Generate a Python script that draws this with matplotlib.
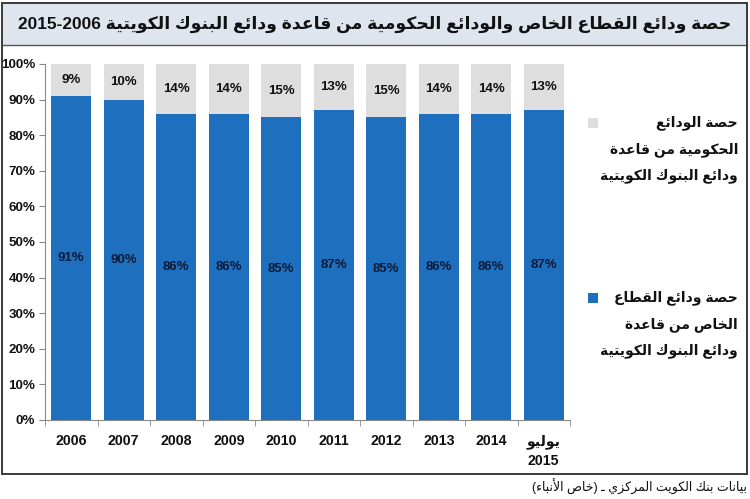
import numpy as np
import matplotlib
matplotlib.use('Agg')
import matplotlib.pyplot as plt
from matplotlib.patches import Rectangle
from matplotlib.lines import Line2D

# data
years = ['2006', '2007', '2008', '2009', '2010', '2011', '2012', '2013', '2014', 'يوليو\n2015']
private_share = [91, 90, 86, 86, 85, 87, 85, 86, 86, 87]
gov_share = [9, 10, 14, 14, 15, 13, 15, 14, 14, 13]

title = 'حصة ودائع القطاع الخاص والودائع الحكومية من قاعدة ودائع البنوك الكويتية 2015-2006'
gov_label = ['حصة الودائع', 'الحكومية من قاعدة', 'ودائع البنوك الكويتية']
private_label = ['حصة ودائع القطاع', 'الخاص من قاعدة', 'ودائع البنوك الكويتية']
source = 'بيانات بنك الكويت المركزي ـ (خاص الأنباء)'

blue = '#1f6fbf'
grey = '#dedede'

# --- simple arabic shaping (presentation forms), no external libs ---
DUAL = {'ئ': 0xFE89, 'ب': 0xFE8F, 'ت': 0xFE95, 'ث': 0xFE99, 'ج': 0xFE9D, 'ح': 0xFEA1,
        'خ': 0xFEA5, 'س': 0xFEB1, 'ش': 0xFEB5, 'ص': 0xFEB9, 'ض': 0xFEBD, 'ط': 0xFEC1,
        'ظ': 0xFEC5, 'ع': 0xFEC9, 'غ': 0xFECD, 'ف': 0xFED1, 'ق': 0xFED5, 'ك': 0xFED9,
        'ل': 0xFEDD, 'م': 0xFEE1, 'ن': 0xFEE5, 'ه': 0xFEE9, 'ي': 0xFEF1}
RIGHT = {'آ': 0xFE81, 'أ': 0xFE83, 'ؤ': 0xFE85, 'إ': 0xFE87, 'ا': 0xFE8D, 'ة': 0xFE93,
         'د': 0xFEA9, 'ذ': 0xFEAB, 'ر': 0xFEAD, 'ز': 0xFEAF, 'و': 0xFEED, 'ى': 0xFEEF}
LAMALEF = {'ا': 0xFEFB, 'أ': 0xFEF7, 'آ': 0xFEF5, 'إ': 0xFEF9}
MIRROR = {'(': ')', ')': '('}


def is_arabic(c):
    return '\u0600' <= c <= '\u06ff'


def shape(word):
    units = []
    i = 0
    while i < len(word):
        c = word[i]
        if c == 'ل' and i + 1 < len(word) and word[i + 1] in LAMALEF:
            units.append(('LA', word[i + 1]))
            i += 2
        else:
            units.append(('C', c))
            i += 1

    def j_next(u):
        return u[0] == 'C' and (u[1] in DUAL or u[1] == 'ـ')

    def j_prev(u):
        return u[0] == 'LA' or u[1] in DUAL or u[1] in RIGHT or u[1] == 'ـ'

    out = []
    for k, u in enumerate(units):
        p = k > 0 and j_next(units[k - 1]) and j_prev(u)
        n = k + 1 < len(units) and j_next(u) and j_prev(units[k + 1])
        kind, c = u
        if kind == 'LA':
            out.append(chr(LAMALEF[c] + int(p)))
        elif c in DUAL:
            base = DUAL[c]
            out.append(chr(base + (3 if p and n else 1 if p else 2 if n else 0)))
        elif c in RIGHT:
            out.append(chr(RIGHT[c] + int(p)))
        elif c == 'ء':
            out.append('\uFE80')
        else:
            out.append(c)
    return ''.join(out)


def visual_word(tok):
    # arabic words are flipped (brackets mirrored), numbers stay as they are
    if not any(is_arabic(c) for c in tok):
        return tok
    return ''.join(MIRROR.get(c, c) for c in shape(tok)[::-1])


def rtl(line):
    return ' '.join(visual_word(t) for t in line.split(' ')[::-1])


ar_font = ['Liberation Sans', 'DejaVu Sans']
num_font = ['Liberation Sans Narrow', 'Liberation Sans', 'DejaVu Sans']

fig = plt.figure(figsize=(7.5, 4.99), dpi=100)
W, H = 750, 499


def fx(px):
    return px / W


def fy(py):
    return 1 - py / H


# frame and title band
fig.patches.append(Rectangle((fx(2), fy(45)), fx(745), 42 / H, transform=fig.transFigure,
                             facecolor='#dfe5ee', edgecolor='none', zorder=0))
fig.patches.append(Rectangle((fx(2), fy(474)), fx(745), 471 / H, transform=fig.transFigure,
                             facecolor='none', edgecolor='#3a3a3a', lw=1.4, zorder=5))
fig.lines.append(Line2D([fx(2), fx(747)], [fy(45), fy(45)], transform=fig.transFigure,
                        color='#555555', lw=1.0))

fig.text(0.5, fy(24), rtl(title), ha='center', va='center', fontsize=12.4,
         fontweight='bold', family=ar_font, color='#111111')

ax = fig.add_axes([fx(45), fy(420), fx(525), 356 / H])
x = np.arange(len(years))
ax.bar(x, private_share, width=0.77, color=blue, zorder=2)
ax.bar(x, gov_share, bottom=private_share, width=0.77, color=grey, zorder=2)

for i in range(len(years)):
    ax.text(x[i], private_share[i] / 2, f'{private_share[i]}%', ha='center', va='center',
            fontsize=9.5, fontweight='bold', family=num_font, color='#0b1a36')
    ax.text(x[i], private_share[i] + gov_share[i] / 2, f'{gov_share[i]}%', ha='center',
            va='center', fontsize=9.5, fontweight='bold', family=num_font, color='#111111')

ax.set_xlim(-0.5, len(years) - 0.5)
ax.set_ylim(0, 100)
ax.set_yticks(np.arange(0, 101, 10))
ax.set_yticklabels([f'{v}%' for v in range(0, 101, 10)])
ax.set_xticks(x)
xl = [y if '\n' not in y else '\n'.join(rtl(s) for s in y.split('\n')) for y in years]
ax.set_xticklabels(xl, linespacing=1.5)
ax.set_xticks(np.arange(-0.5, len(years), 1), minor=True)
ax.tick_params(axis='x', which='major', length=0, pad=10)
ax.tick_params(axis='x', which='minor', length=4, color='#888888')
ax.tick_params(axis='y', length=4, color='#888888', pad=3)
for lab in ax.get_xticklabels():
    lab.set_fontsize(10.2)
for lab in ax.get_yticklabels():
    lab.set_fontsize(9.6)
for lab in ax.get_xticklabels() + ax.get_yticklabels():
    lab.set_fontweight('bold')
    lab.set_family(ar_font if any(is_arabic(c) for c in lab.get_text()) else num_font)
    lab.set_color('#111111')
for s in ['top', 'right']:
    ax.spines[s].set_visible(False)
for s in ['left', 'bottom']:
    ax.spines[s].set_color('#888888')
ax.set_facecolor('none')

# legend drawn as text blocks on the right
for lines, col, top in [(gov_label, grey, 123), (private_label, blue, 298)]:
    fig.patches.append(Rectangle((fx(588), fy(top + 5)), 10 / W, 10 / H, transform=fig.transFigure,
                                 facecolor=col, edgecolor='none'))
    for k, ln in enumerate(lines):
        fig.text(fx(738), fy(top + 26.5 * k), rtl(ln), ha='right', va='center', fontsize=10,
                 fontweight='bold', family=ar_font, color='#111111')

fig.text(fx(747), fy(487), rtl(source), ha='right', va='center',
         fontsize=9, family=ar_font, color='#111111')

fig.savefig('out.png', dpi=100)
